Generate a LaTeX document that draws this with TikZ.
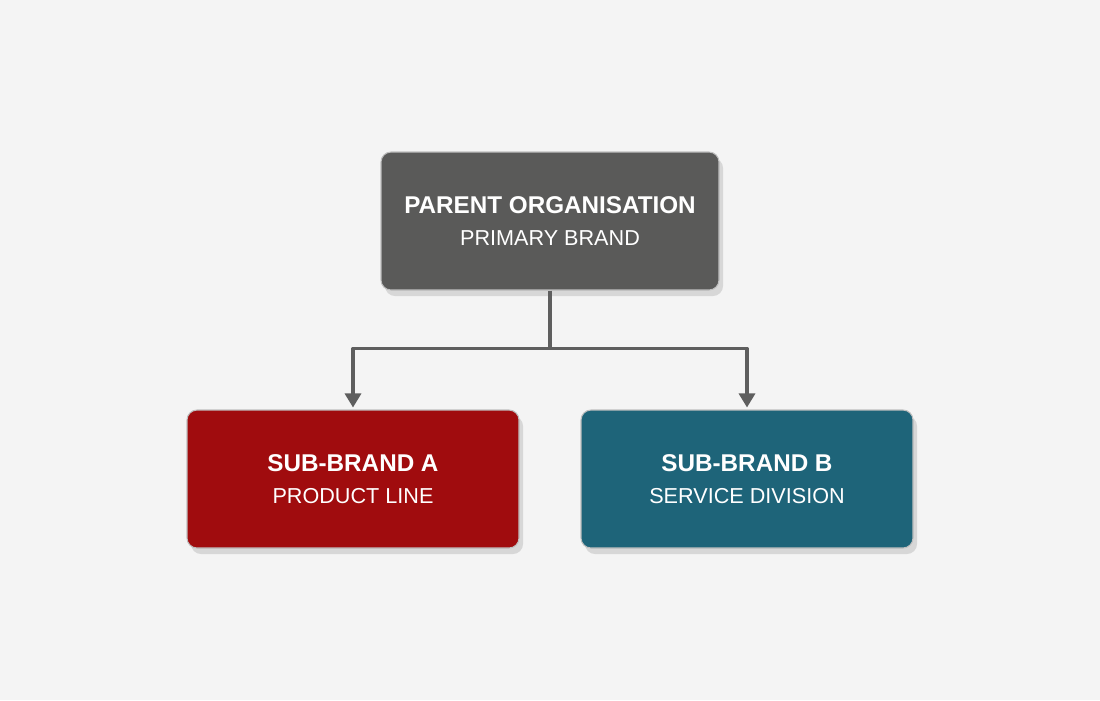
\documentclass[tikz,border=0pt]{standalone}
\usepackage{fontspec}
\setmainfont{Liberation Sans}
\usetikzlibrary{arrows.meta,shadows,calc}
\definecolor{bgpaper}{HTML}{F4F4F4}
\definecolor{parentgrey}{HTML}{5A5A59}
\definecolor{brandred}{HTML}{A00C0E}
\definecolor{brandteal}{HTML}{1E6479}
\definecolor{linkgrey}{HTML}{5E5E5E}
\tikzset{
  brandbox/.style={rectangle, rounded corners=0.1cm, minimum width=3.32cm, minimum height=1.38cm,
    align=center, text=white, draw=black!25, line width=0.3pt,
    drop shadow={shadow xshift=0.04cm, shadow yshift=-0.06cm, opacity=0.2, fill=black!60}},
  link/.style={draw=linkgrey, line width=0.9pt},
}
\newcommand{\brandtitle}[1]{\textbf{\fontsize{6.9}{10}\selectfont #1}}
\begin{document}
\begin{tikzpicture}[font=\fontsize{6.15}{9}\selectfont, line join=round, >={Triangle[length=0.14cm,width=0.16cm]}]
	% nền
	\fill[bgpaper] (0,0) rectangle (11,7);
	\useasboundingbox (0,0) rectangle (11,7);
	% các khối
	\node[brandbox, fill=parentgrey, minimum width=3.38cm] (parent) at (5.5,4.79)
		{\brandtitle{PARENT ORGANISATION}\\[0.3pt]PRIMARY BRAND};
	\node[brandbox, fill=brandred] (subA) at (3.53,2.21)
		{\brandtitle{SUB-BRAND A}\\[0.3pt]PRODUCT LINE};
	\node[brandbox, fill=brandteal] (subB) at (7.47,2.21)
		{\brandtitle{SUB-BRAND B}\\[0.3pt]SERVICE DIVISION};
	% điểm rẽ nhánh
	\coordinate (fork) at ($(parent.south)+(0,-0.58)$);
	% nối
	\draw[link] (parent.south) -- (fork);
	\draw[link, ->] (fork) -| ([yshift=0.02cm]subA.north);
	\draw[link, ->] (fork) -| ([yshift=0.02cm]subB.north);
\end{tikzpicture}
\end{document}
